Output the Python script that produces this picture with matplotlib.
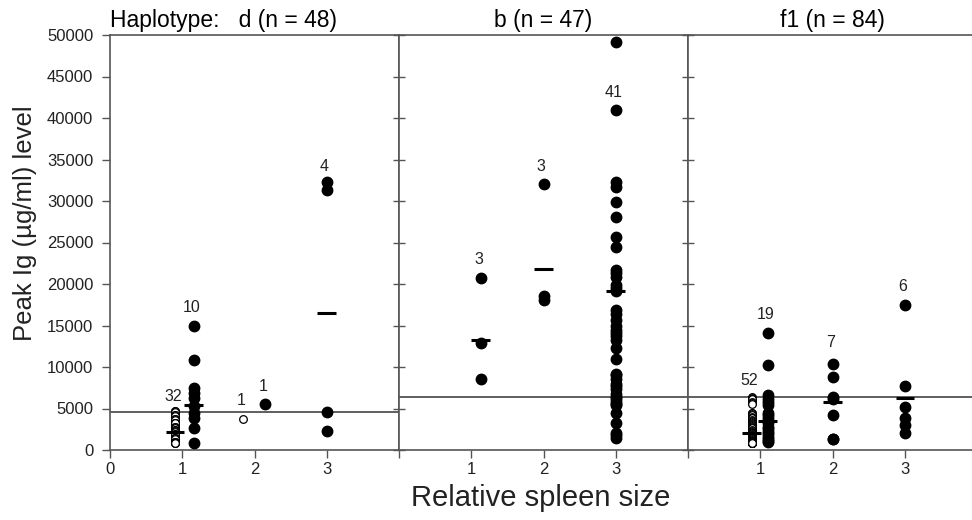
import matplotlib
matplotlib.use("Agg")
import matplotlib.pyplot as plt

plt.rcParams['font.family'] = ['Liberation Sans', 'DejaVu Sans']

# ---- data (Peak Ig, ug/ml) ----
# haplotype d
d_open_1 = [4700, 4700, 4600, 4200, 4200, 4100, 3700, 3700, 3600, 3300, 3300,
            3200, 2800, 2800, 2700, 2400, 2400, 2300, 2200, 1900, 1900, 1800,
            1400, 1400, 1400, 1300, 1000, 1000, 1000, 900, 900, 800]
d_filled_1 = [15000, 10800, 7500, 6900, 6300, 5300, 4500, 3800, 2600, 900]
d_open_2 = [3700]
d_filled_2 = [5500]
d_filled_3 = [32300, 31300, 4600, 2300]
d_means = [2200, 5400, None, None, 16500]
d_counts = ["32", "10", "1", "1", "4"]
d_count_y = [6500, 17200, 6000, 7600, 34200]
d_cutoff = 4600

# haplotype b
b_1 = [20700, 12900, 8500]
b_2 = [32000, 18600, 18100]
b_3 = [49200, 41000, 32300, 31700, 29900, 28100, 25700, 24500, 21700, 21300,
       20900, 19900, 19500, 19100, 16900, 16400, 15700, 14900, 14500, 14100,
       13700, 13300, 12300, 11000, 9200, 9000, 8600, 8000, 7700, 7400,
       6800, 6400, 6100, 5800, 5600, 5400, 4400, 3200, 2000, 1800, 1400]
b_means = [13300, 21800, 19200]
b_counts = ["3", "3", "41"]
b_count_y = [22900, 34100, 43100]
b_cutoff = 6400

# haplotype f1
f1_open_1 = [6400, 6300, 6200, 6100, 5800, 5700, 5600, 4500, 4400, 4300, 4200,
             4000, 3900, 3800, 3600, 3500, 3400, 3300, 3100, 3000, 2900, 2800,
             2700, 2600, 2400, 2300, 2200, 2100, 2000, 2000, 1900, 1800, 1700,
             1600, 1500, 1500, 1400, 1300, 1200, 1100, 1100, 1100, 1000, 1000,
             1000, 1000, 900, 900, 900, 900, 900, 900]
f1_filled_1 = [14100, 10200, 6600, 6200, 5800, 5400, 4500, 4200, 3800, 3500,
               3200, 2800, 2500, 2200, 1900, 1600, 1300, 1100, 1000]
f1_2 = [10400, 8800, 6400, 6100, 4200, 1300, 1300]
f1_3 = [17500, 7700, 5200, 3900, 3000, 2000]
f1_means = [2000, 3500, 5800, 6300]
f1_counts = ["52", "19", "7", "6"]
f1_count_y = [8400, 16300, 12900, 19700]
f1_cutoff = 6400

# spleen-size positions of each group (slightly offset around 1, 2, 3)
d_x = [0.9, 1.16, 1.84, 2.15, 3.0]
b_x = [1.13, 2.0, 3.0]
f1_x = [0.88, 1.1, 2.0, 3.0]

panels = [
    dict(title="Haplotype:   d (n = 48)",
         groups=[d_open_1, d_filled_1, d_open_2, d_filled_2, d_filled_3],
         hollow=[True, False, True, False, False],
         xs=d_x, means=d_means, counts=d_counts, count_y=d_count_y,
         cutoff=d_cutoff),
    dict(title="b (n = 47)", groups=[b_1, b_2, b_3], hollow=[False] * 3,
         xs=b_x, means=b_means, counts=b_counts, count_y=b_count_y,
         cutoff=b_cutoff),
    dict(title="f1 (n = 84)", groups=[f1_open_1, f1_filled_1, f1_2, f1_3],
         hollow=[True, False, False, False],
         xs=f1_x, means=f1_means, counts=f1_counts, count_y=f1_count_y,
         cutoff=f1_cutoff),
]

fig = plt.figure(figsize=(9.72, 5.20), dpi=100)
spine_col = "#555555"
text_col = "#222222"

left, bottom, height = 110 / 972, 1 - 450 / 520, 415 / 520
pw = 289 / 972
for i, p in enumerate(panels):
    x0 = left + i * pw
    w = pw if i < 2 else 1 - x0
    ax = fig.add_axes([x0, bottom, w, height])
    ax.set_ylim(0, 50000)
    ax.set_xlim(0, 4 if i < 2 else (972 - 688) / 72.3)

    for sp in ax.spines.values():
        sp.set_color(spine_col)
        sp.set_linewidth(1.2)
    if i == 2:
        ax.spines['right'].set_visible(False)

    ax.set_yticks(range(0, 50001, 5000))
    if i == 0:
        ax.tick_params(axis='y', direction='out', length=6, width=1,
                       color=spine_col, labelsize=12, labelcolor=text_col, pad=6)
        ax.set_xticks([0, 1, 2, 3, 4])
        ax.set_xticklabels(["0", "1", "2", "3", ""])
    else:
        ax.tick_params(axis='y', direction='inout', length=9, width=1,
                       color=spine_col, labelleft=False)
        ax.set_xticks([1, 2, 3] + ([4] if i == 1 else []))
        ax.set_xticklabels(["1", "2", "3"] + ([""] if i == 1 else []))
    ax.tick_params(axis='x', direction='out', length=6, width=1,
                   color=spine_col, labelsize=12, labelcolor=text_col, pad=3)

    ax.axhline(p['cutoff'], color="#333333", lw=1.1, zorder=2)

    for x, vals, hollow in zip(p['xs'], p['groups'], p['hollow']):
        if hollow:
            ax.plot([x] * len(vals), vals, 'o', ms=5.5, mfc='white',
                    mec='black', mew=0.9, clip_on=False, zorder=3)
        else:
            ax.plot([x] * len(vals), vals, 'o', ms=7.5, color='black',
                    clip_on=False, zorder=3)
    for x, m in zip(p['xs'], p['means']):
        if m is not None:
            ax.hlines(m, x - 0.13, x + 0.13, color='black', lw=2.2, zorder=4)
    for x, c, cy in zip(p['xs'], p['counts'], p['count_y']):
        ax.text(x - 0.03, cy, c, ha='center', va='center', fontsize=11.5,
                color=text_col)

    if i == 0:
        ax.text(0, 1.008, p['title'], transform=ax.transAxes, ha='left',
                va='bottom', fontsize=16.5, color='black')
    else:
        ax.text(2.0, 1.008, p['title'], transform=ax.get_xaxis_transform(),
                ha='center', va='bottom', fontsize=16.5, color='black')

fig.text(25 / 972, 1 - 223 / 520, "Peak Ig (\u00b5g/ml) level", rotation=90,
         ha='center', va='center', fontsize=18.5, color=text_col)
fig.text(541 / 972, 1 - 498 / 520, "Relative spleen size", ha='center',
         va='center', fontsize=21, color=text_col)

fig.savefig("out.png", dpi=100)
